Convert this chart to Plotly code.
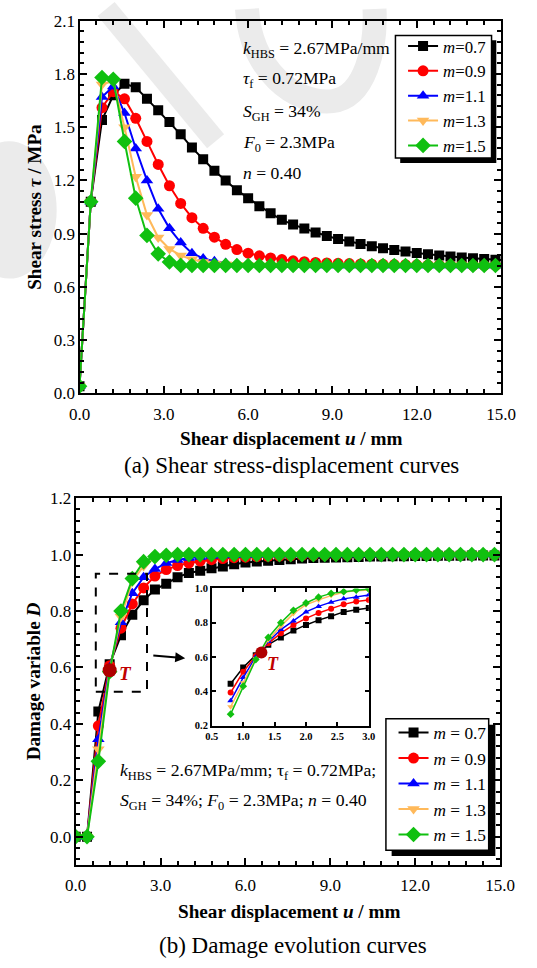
import plotly.graph_objects as go

W, H = 537, 968
FONT = "Liberation Serif, Times New Roman, serif"

# ---------------- data ----------------
U = [0.0, 0.4, 0.8, 1.2, 1.6, 2.0, 2.4, 2.8, 3.2, 3.6, 4.0, 4.4, 4.8, 5.2, 5.6, 6.0,
     6.4, 6.8, 7.2, 7.6, 8.0, 8.4, 8.8, 9.2, 9.6, 10.0, 10.4, 10.8, 11.2, 11.6, 12.0,
     12.4, 12.8, 13.2, 13.6, 14.0, 14.4, 14.8, 15.2]

M_LABELS = ["0.7", "0.9", "1.1", "1.3", "1.5"]

TAU_07 = [0.04, 1.08, 1.54, 1.68, 1.745, 1.725, 1.66, 1.595, 1.53, 1.46, 1.385, 1.32, 1.255,
          1.20, 1.145, 1.10, 1.055, 1.015, 0.978, 0.951, 0.929, 0.906, 0.887, 0.870, 0.855,
          0.841, 0.829, 0.818, 0.808, 0.799, 0.791, 0.784, 0.777, 0.771, 0.766, 0.761, 0.757,
          0.753, 0.750]
TAU_09 = [0.04, 1.08, 1.61, 1.70, 1.66, 1.55, 1.42, 1.29, 1.17, 1.07, 0.99, 0.93, 0.88, 0.84,
          0.81, 0.79, 0.775, 0.763, 0.754, 0.747, 0.742, 0.738, 0.735, 0.733, 0.731, 0.729,
          0.728, 0.727, 0.726, 0.725, 0.724, 0.723, 0.723, 0.722, 0.722, 0.721, 0.721, 0.721,
          0.720]
TAU_11 = [0.04, 1.08, 1.67, 1.73, 1.58, 1.38, 1.20, 1.04, 0.93, 0.85, 0.79, 0.76, 0.745, 0.735,
          0.730, 0.727, 0.725, 0.724, 0.723, 0.722, 0.722, 0.721, 0.721, 0.720, 0.720, 0.720,
          0.720, 0.720, 0.720, 0.720, 0.720, 0.720, 0.720, 0.720, 0.720, 0.720, 0.720, 0.720,
          0.720]
TAU_13 = [0.04, 1.08, 1.74, 1.76, 1.50, 1.22, 1.005, 0.878, 0.814, 0.777, 0.755, 0.740, 0.732,
          0.727, 0.724, 0.722, 0.721, 0.720, 0.720, 0.720, 0.720, 0.720, 0.720, 0.720, 0.720,
          0.720, 0.720, 0.720, 0.720, 0.720, 0.720, 0.720, 0.720, 0.720, 0.720, 0.720, 0.720,
          0.720, 0.720]
TAU_15 = [0.04, 1.08, 1.78, 1.77, 1.42, 1.10, 0.89, 0.786, 0.740, 0.721, 0.720, 0.720, 0.720,
          0.720, 0.720, 0.720, 0.720, 0.720, 0.720, 0.720, 0.720, 0.720, 0.720, 0.720, 0.720,
          0.720, 0.720, 0.720, 0.720, 0.720, 0.720, 0.720, 0.720, 0.720, 0.720, 0.720, 0.720,
          0.720, 0.720]

D_07 = [0.0, 0.0, 0.444, 0.611, 0.714, 0.787, 0.838, 0.876, 0.897, 0.920, 0.935, 0.943, 0.952,
        0.958, 0.966, 0.972, 0.976, 0.978, 0.981, 0.984, 0.986, 0.988, 0.989, 0.990, 0.991,
        0.992, 0.993, 0.993, 0.994, 0.994, 0.995, 0.995, 0.996, 0.996, 0.996, 0.997, 0.997,
        0.997, 0.997]
D_09 = [0.0, 0.0, 0.393, 0.606, 0.739, 0.825, 0.882, 0.924, 0.947, 0.961, 0.970, 0.977, 0.982,
        0.986, 0.989, 0.991, 0.993, 0.994, 0.995, 0.996, 0.997, 0.997, 0.998, 0.998, 0.998,
        0.999, 0.999, 0.999, 0.999, 0.999, 0.999, 0.999, 0.999, 0.999, 0.999, 0.999, 0.999,
        0.999, 0.999]
D_11 = [0.0, 0.0, 0.345, 0.600, 0.760, 0.863, 0.920, 0.949, 0.970, 0.981, 0.988, 0.992, 0.995,
        0.997, 0.998, 0.999, 0.999, 1.0, 1.0, 1.0, 1.0, 1.0, 1.0, 1.0, 1.0, 1.0, 1.0, 1.0, 1.0,
        1.0, 1.0, 1.0, 1.0, 1.0, 1.0, 1.0, 1.0, 1.0, 1.0]
D_13 = [0.0, 0.0, 0.310, 0.590, 0.780, 0.905, 0.960, 0.988, 0.995, 0.998, 0.999, 1.0, 1.0, 1.0,
        1.0, 1.0, 1.0, 1.0, 1.0, 1.0, 1.0, 1.0, 1.0, 1.0, 1.0, 1.0, 1.0, 1.0, 1.0, 1.0, 1.0, 1.0,
        1.0, 1.0, 1.0, 1.0, 1.0, 1.0, 1.0]
D_15 = [0.0, 0.0, 0.267, 0.585, 0.800, 0.915, 0.975, 0.993, 0.998, 1.0, 1.0, 1.0, 1.0, 1.0, 1.0,
        1.0, 1.0, 1.0, 1.0, 1.0, 1.0, 1.0, 1.0, 1.0, 1.0, 1.0, 1.0, 1.0, 1.0, 1.0, 1.0, 1.0, 1.0,
        1.0, 1.0, 1.0, 1.0, 1.0, 1.0]

U_IN = [0.8, 1.0, 1.2, 1.4, 1.6, 1.8, 2.0, 2.2, 2.4, 2.6, 2.8, 3.0]
DIN_07 = [0.444, 0.539, 0.611, 0.672, 0.714, 0.754, 0.787, 0.815, 0.838, 0.863, 0.876, 0.886]
DIN_09 = [0.393, 0.514, 0.606, 0.680, 0.739, 0.787, 0.825, 0.857, 0.882, 0.907, 0.924, 0.933]
DIN_11 = [0.345, 0.480, 0.600, 0.690, 0.760, 0.810, 0.863, 0.895, 0.920, 0.939, 0.949, 0.962]
DIN_13 = [0.310, 0.450, 0.590, 0.700, 0.780, 0.853, 0.905, 0.933, 0.958, 0.977, 0.987, 0.990]
DIN_15 = [0.267, 0.430, 0.585, 0.714, 0.800, 0.872, 0.915, 0.949, 0.971, 0.981, 0.990, 0.996]

T_MAIN = (1.2, 0.59)
T_INSET = (1.29, 0.627)

TAUS = [TAU_07, TAU_09, TAU_11, TAU_13, TAU_15]
DS = [D_07, D_09, D_11, D_13, D_15]
DINS = [DIN_07, DIN_09, DIN_11, DIN_13, DIN_15]

COLORS = ["#000000", "#ff0000", "#0000ff", "#ffb95a", "#10c010"]
SYMBOLS = ["square", "circle", "triangle-up", "triangle-down", "diamond"]
SIZES = [10, 11, 11, 11, 12]


def px(x):
    return x / W


def py(y):
    return 1 - y / H


fig = go.Figure()

# top panel
for i in range(5):
    fig.add_trace(go.Scatter(
        x=U, y=TAUS[i], mode="lines+markers",
        name="<i>m</i>=" + M_LABELS[i],
        line=dict(color=COLORS[i], width=2),
        marker=dict(symbol=SYMBOLS[i], size=SIZES[i], color=COLORS[i]),
        xaxis="x", yaxis="y", legend="legend"))

# bottom panel
for i in range(5):
    fig.add_trace(go.Scatter(
        x=U, y=DS[i], mode="lines+markers",
        name="<i>m</i> = " + M_LABELS[i],
        line=dict(color=COLORS[i], width=2),
        marker=dict(symbol=SYMBOLS[i], size=SIZES[i], color=COLORS[i]),
        xaxis="x2", yaxis="y2", legend="legend2"))

fig.add_trace(go.Scatter(x=[T_MAIN[0]], y=[T_MAIN[1]], mode="markers",
                         marker=dict(color="#b00000", size=14), showlegend=False,
                         xaxis="x2", yaxis="y2"))

# inset
for i in range(5):
    fig.add_trace(go.Scatter(
        x=U_IN, y=DINS[i], mode="lines+markers", showlegend=False,
        line=dict(color=COLORS[i], width=1.5),
        marker=dict(symbol=SYMBOLS[i], size=6, color=COLORS[i]),
        xaxis="x3", yaxis="y3"))
fig.add_trace(go.Scatter(x=[T_INSET[0]], y=[T_INSET[1]], mode="markers",
                         marker=dict(color="#b00000", size=12), showlegend=False,
                         xaxis="x3", yaxis="y3"))


def axis(domain, rng, dtick, mdtick, anchor, lw=2, tl=7, mtl=4, fs=17, bold=False,
         minor=True, standoff=None):
    d = dict(domain=domain, range=rng, dtick=dtick, tick0=0, anchor=anchor,
             showline=True, linewidth=lw, linecolor="black", mirror="allticks",
             ticks="inside", ticklen=tl, tickwidth=lw, tickcolor="black",
             showgrid=False, zeroline=False, tickformat=".1f",
             tickfont=dict(family=FONT, size=fs, color="black",
                           weight="bold" if bold else "normal"))
    if standoff is not None:
        d["ticklabelstandoff"] = standoff
    if minor:
        d["minor"] = dict(dtick=mdtick, tick0=0, ticks="inside", ticklen=mtl,
                          tickwidth=1.5, tickcolor="black", showgrid=False)
    return d


LEG_FONT = dict(family=FONT, color="black")
fig.update_layout(
    width=W, height=H, margin=dict(l=0, r=0, t=0, b=0),
    paper_bgcolor="white", plot_bgcolor="rgba(0,0,0,0)",
    xaxis=axis([px(72), px(515)], [0, 15], 3, 0.6, "y", standoff=4),
    yaxis=axis([py(392), py(12)], [0, 2.1], 0.3, 0.06, "x", standoff=-1),
    xaxis2=axis([px(68), px(514)], [0, 15], 3, 0.6, "y2", standoff=4),
    yaxis2=axis([py(873), py(499)], [-0.1, 1.2], 0.2, 0.04, "x2", standoff=-1),
    xaxis3=axis([px(211), px(376)], [0.5, 3.0], 0.5, 0.5, "y3", lw=1.5, tl=4, fs=10.5,
                bold=True, minor=False),
    yaxis3=axis([py(731), py(591)], [0.2, 1.0], 0.2, 0.2, "x3", lw=1.5, tl=4, fs=10.5,
                bold=True, minor=False),
    legend=dict(x=px(412), y=py(20), xanchor="left", yanchor="top",
                bgcolor="rgba(0,0,0,0)", borderwidth=0,
                font=dict(size=16.8, **LEG_FONT)),
    legend2=dict(x=px(402), y=py(720), xanchor="left", yanchor="top",
                 bgcolor="rgba(0,0,0,0)", borderwidth=0,
                 font=dict(size=17.3, **LEG_FONT)),
)

WM = "#ebebeb"


def wpath(pts):
    s = "M {} {}".format(px(pts[0][0]), py(pts[0][1]))
    for i in range(1, len(pts), 3):
        s += " C {} {} {} {} {} {}".format(px(pts[i][0]), py(pts[i][1]),
                                           px(pts[i + 1][0]), py(pts[i + 1][1]),
                                           px(pts[i + 2][0]), py(pts[i + 2][1]))
    return s


shapes = [
    # faint watermark pieces
    dict(type="circle", xref="paper", yref="paper", x0=px(-52), x1=px(48), y0=py(275), y1=py(135),
         fillcolor=WM, line=dict(width=0), layer="below"),
    dict(type="line", xref="paper", yref="paper", x0=px(100), y0=py(0), x1=px(215), y1=py(135),
         line=dict(color=WM, width=22), layer="below"),
    dict(type="path", xref="paper", yref="paper",
         path=wpath([(248, 0), (252, 62), (298, 98), (338, 94), (372, 90), (384, 40), (382, 0)]),
         line=dict(color=WM, width=24), layer="below"),
    # top legend frame with shadow
    dict(type="rect", xref="paper", yref="paper", x0=px(409), x1=px(510), y0=py(157), y1=py(32),
         fillcolor="black", line=dict(width=0), layer="above"),
    dict(type="rect", xref="paper", yref="paper", x0=px(404), x1=px(505), y0=py(152), y1=py(27),
         fillcolor="white", line=dict(color="black", width=1.5), layer="above"),
    # bottom legend frame with shadow
    dict(type="rect", xref="paper", yref="paper", x0=px(400), x1=px(509), y0=py(864), y1=py(730),
         fillcolor="black", line=dict(width=0), layer="above"),
    dict(type="rect", xref="paper", yref="paper", x0=px(394), x1=px(502), y0=py(858), y1=py(724),
         fillcolor="white", line=dict(color="black", width=1.5), layer="above"),
    # dashed zoom box
    dict(type="rect", xref="x2", yref="y2", x0=0.71, x1=2.52, y0=0.514, y1=0.932,
         line=dict(color="black", width=2, dash="dash")),
]
fig.update_layout(shapes=shapes)


def txt(x, y, s, size=17.7, xanchor="left", angle=0, color="black"):
    return dict(x=px(x), y=py(y), xref="paper", yref="paper", text=s, showarrow=False,
                xanchor=xanchor, yanchor="middle", textangle=angle,
                font=dict(family=FONT, size=size, color=color))


ann = [
    txt(242, 41, "<i>k</i><sub>HBS</sub> = 2.67MPa/mm", size=17.6),
    txt(242, 72, "<i>τ</i><sub>f</sub> = 0.72MPa", size=17.6),
    txt(242, 106, "<i>S</i><sub>GH</sub> = 34%", size=17.6),
    txt(242, 137, "<i>F</i><sub>0</sub> = 2.3MPa", size=17.6),
    txt(242, 167, "<i>n</i> = 0.40", size=17.6),
    txt(112, 778, "<i>k</i><sub>HBS</sub> = 2.67MPa/mm; τ<sub>f</sub> = 0.72MPa;"),
    txt(112, 808, "<i>S</i><sub>GH</sub> = 34%; <i>F</i><sub>0</sub> = 2.3MPa; <i>n</i> = 0.40"),
    txt(294, 438, "<b>Shear displacement <i>u</i> / mm</b>", size=19.2, xanchor="center"),
    txt(292, 921, "<b>Shear displacement <i>u</i> / mm</b>", size=19.2, xanchor="center"),
    txt(24, 202, "<b>Shear stress <i>τ</i> / MPa</b>", size=19.2, xanchor="center", angle=-90),
    txt(24, 686, "<b>Damage variable <i>D</i></b>", size=19.2, xanchor="center", angle=-90),
    txt(295, 466, "(a) Shear stress-displacement curves", size=23, xanchor="center"),
    txt(296, 955, "(b) Damage evolution curves", size=23, xanchor="center"),
    txt(120, 678, "<b><i>T</i></b>", size=19, xanchor="center", color="#c00000"),
    txt(275, 668, "<b><i>T</i></b>", size=18, xanchor="center", color="#c00000"),
    dict(x=3.87, y=0.633, ax=2.69, ay=0.643, xref="x2", yref="y2", axref="x2", ayref="y2",
         text="", showarrow=True, arrowhead=2, arrowsize=1, arrowwidth=2, arrowcolor="black"),
]
fig.update_layout(annotations=ann)

fig.write_html("out.html")
